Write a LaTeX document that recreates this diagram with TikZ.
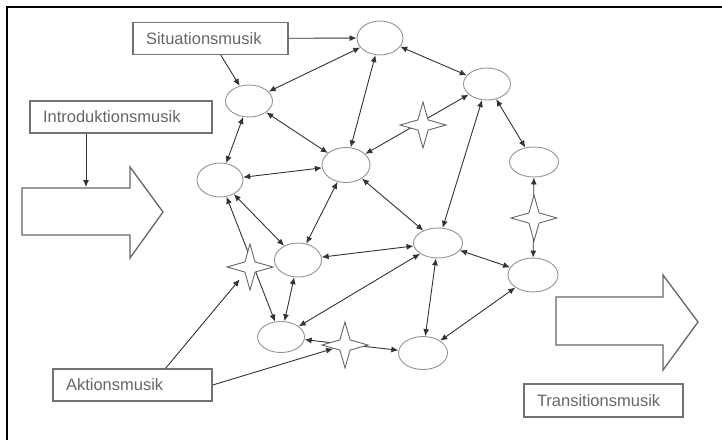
\documentclass[tikz,border=0pt]{standalone}
\usepackage{fontspec}
\setmainfont{Liberation Sans}
\usetikzlibrary{shapes.geometric,arrows.meta,positioning,backgrounds}

\begin{document}
\begin{tikzpicture}[x=1pt,y=-1pt,
	>={Latex[length=7pt,width=6pt]},   % Pfeilspitzen
	ell/.style={draw=gray!85,line width=0.9pt,ellipse,minimum width=47pt,minimum height=32pt,inner sep=0pt},
	box/.style={draw=gray!90!black,line width=1.3pt,rectangle,inner xsep=13pt,inner ysep=0pt,
		minimum height=32pt,align=left,text=black!60,font=\fontsize{16.5}{18}\selectfont},
	stern/.style={draw=gray!80!black,line width=0.9pt,fill=white,star,star points=4,
		star point ratio=3.2,minimum size=46pt,inner sep=0pt},
	verb/.style={<->,draw=black!80,line width=0.9pt},
	pfeil/.style={->,draw=black!80,line width=0.9pt},
	gross/.style={draw=gray!80!black,line width=1.3pt,line join=miter}
	]
	
	\useasboundingbox (0,0) rectangle (722,440);
	
	% Rahmen
	\draw[line width=2pt] (7,440) -- (7,7) -- (722,7);
	
	% Kaesten
	\node[box,text width=129pt] (sit) at (210.5,38.5) {Situationsmusik};
	\node[box,text width=156pt] (intro) at (121,117) {Introduktionsmusik};
	\node[box,text width=133pt] (akt) at (132.5,385) {Aktionsmusik};
	\node[box,text width=133pt,minimum height=33pt] (trans) at (603.5,400.5) {Transitionsmusik};
	
	% grosse Pfeile
	\draw[gross] (22,188) -- (130,188) -- (130,167) -- (163,212) -- (130,258) -- (130,235) -- (22,235) -- cycle;
	\draw[gross] (556,297) -- (663,297) -- (663,275) -- (698,322) -- (663,370) -- (663,345) -- (556,345) -- cycle;
	\coordinate (introarr) at (86,187);
	
	% Ellipsen
	\node[ell,minimum width=46pt,minimum height=34pt] (e1) at (380,38) {};
	\node[ell] (e2) at (487,84) {};
	\node[ell,minimum width=49pt,minimum height=30pt] (e3) at (534,162) {};
	\node[ell,minimum width=50pt,minimum height=34pt] (e4) at (533,275) {};
	\node[ell,minimum width=49pt,minimum height=30pt] (e5) at (438,243) {};
	\node[ell,minimum width=49pt,minimum height=33pt] (e6) at (423,353) {};
	\node[ell] (e7) at (249,101) {};
	\node[ell,minimum width=48pt,minimum height=35pt] (e8) at (346,165) {};
	\node[ell,minimum width=46pt,minimum height=34pt] (e9) at (220,180) {};
	\node[ell,minimum height=34pt] (e10) at (298,260) {};
	\node[ell,minimum height=31pt] (e11) at (281,337) {};
	
	% Sterne
	\node[stern] (s1) at (423,125) {};
	\node[stern] (s2) at (534,218) {};
	\node[stern] (s3) at (250,267) {};
	\node[stern] (s4) at (345,345) {};
	
	% Verbindungen
	\begin{scope}[on background layer]
		\draw[pfeil] (sit) -- (e1);
		\draw[pfeil] (sit) -- (e7);
		\draw[pfeil] (intro.south -| introarr) -- (introarr);
		\draw[verb] (e1) -- (e7);
		\draw[verb] (e1) -- (e8);
		\draw[verb] (e1) -- (e2);
		\draw[verb] (e7) -- (e8);
		\draw[verb] (e7) -- (e9);
		\draw[verb] (e9) -- (e8);
		\draw[verb] (e2) -- (e8);
		\draw[verb] (e2) -- (e5);
		\draw[verb] (e8) -- (e5);
		\draw[verb] (e2) -- (e3);
		\draw[verb] (e3) -- (e4);
		\draw[verb] (e5) -- (e4);
		\draw[verb] (e6) -- (e4);
		\draw[verb] (e5) -- (e6);
		\draw[verb] (e10) -- (e5);
		\draw[verb] (e8) -- (e10);
		\draw[verb] (e9) -- (e10);
		\draw[verb] (e9) -- (e11);
		\draw[verb] (e10) -- (e11);
		\draw[verb] (e5) -- (e11);
		\draw[verb] (e11) -- (e6);
	\end{scope}
	\draw[pfeil,shorten >=8pt] ([xshift=33pt]akt.north) -- (s3);
	\draw[pfeil] (akt.east) -- (s4);
\end{tikzpicture}
\end{document}
